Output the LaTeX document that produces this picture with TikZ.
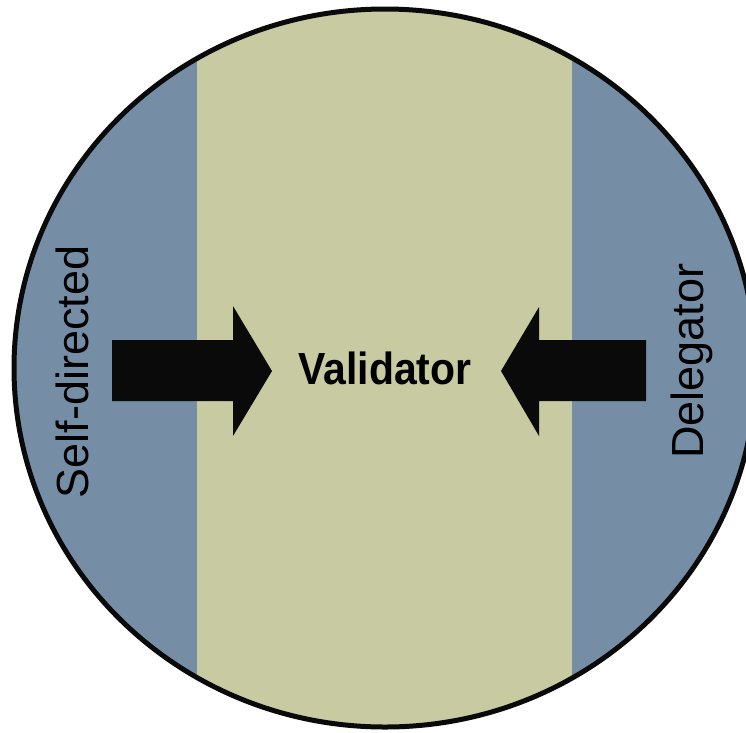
\documentclass[tikz,border=0pt]{standalone}
\usepackage{fontspec}
\setmainfont{Liberation Sans}
\definecolor{sideblue}{RGB}{117,142,166}
\definecolor{midsage}{RGB}{200,203,161}
\definecolor{inkblack}{RGB}{10,10,10}
\begin{document}
\begin{tikzpicture}[x=1pt,y=-1pt,
  sidelabel/.style={anchor=base,rotate=90,inner sep=0pt,font=\fontsize{45}{54}\selectfont},
  midlabel/.style={anchor=base,inner sep=0pt,font=\fontsize{45}{54}\selectfont\bfseries,xscale=0.91},
  bigarrow/.style={fill=inkblack,draw=none}]
\useasboundingbox (0,0) rectangle (746,732);
\clip (0,0) rectangle (746,732);
% disc split into three vertical bands
\begin{scope}
  \clip (385,368) ellipse [x radius=371, y radius=359];
  \fill[sideblue] (0,0) rectangle (780,740);
  \fill[midsage] (197,0) rectangle (572,740);
\end{scope}
\draw[line width=5pt,inkblack] (385,368) ellipse [x radius=371, y radius=359];
% block arrows pointing to the centre
\fill[bigarrow] (112,340) -- (233,340) -- (233,306) -- (272,371) -- (233,436)
  -- (233,401) -- (112,401) -- cycle;
\fill[bigarrow] (646,340) -- (539,340) -- (539,307) -- (501,371) -- (539,436)
  -- (539,401) -- (646,401) -- cycle;
% labels
\node[midlabel] (validator) at (385,384) {Validator};
\node[sidelabel] (selfdirected) at (88,372) {Self-directed};
\node[sidelabel] (delegator) at (703,361) {Delegator};
\end{tikzpicture}
\end{document}
